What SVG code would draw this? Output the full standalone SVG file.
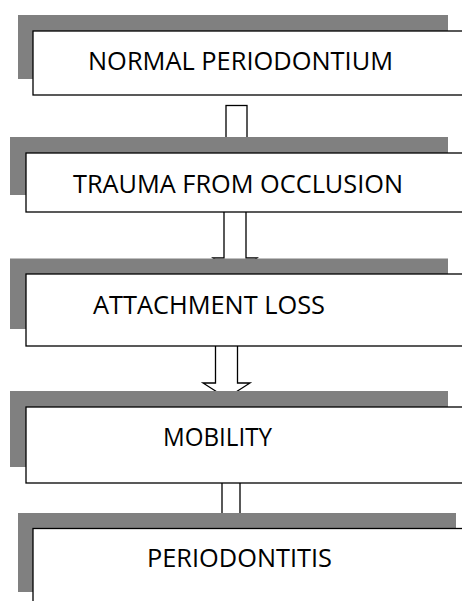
<svg xmlns="http://www.w3.org/2000/svg" width="462" height="601" viewBox="0 0 462 601">
<style>
.shadow{fill:#808080;}
.box{fill:#ffffff;stroke:#000000;stroke-width:1.3;}
.arrow{fill:#ffffff;stroke:#000000;stroke-width:1.3;}
.label{font-family:"Open Sans","Liberation Sans",sans-serif;font-size:25px;fill:#000000;}
</style>
<rect width="462" height="601" fill="#ffffff"/>
<g id="connectors">
<rect class="arrow" x="226" y="105.5" width="21" height="40"/>
<path class="arrow" d="M224,212 V258 H213 L235,275 L257,258 H246 V212"/>
<path class="arrow" d="M215.5,346 V383 H203 L226.5,398 L250,383 H237.5 V346"/>
<path class="arrow" d="M222,483 V520 M240,483 V520"/>
</g>
<g id="node1">
<rect class="shadow" x="18" y="15" width="430" height="64"/>
<rect class="box" x="33" y="31" width="440" height="64"/>
<text class="label" x="88" y="69.5" textLength="305" lengthAdjust="spacingAndGlyphs">NORMAL PERIODONTIUM</text>
</g>
<g id="node2">
<rect class="shadow" x="10" y="137" width="438" height="58"/>
<rect class="box" x="26" y="153" width="446" height="59"/>
<text class="label" x="73" y="193" textLength="330" lengthAdjust="spacingAndGlyphs">TRAUMA FROM OCCLUSION</text>
</g>
<g id="node3">
<rect class="shadow" x="10" y="258.5" width="438" height="70.5"/>
<rect class="box" x="26" y="274" width="446" height="72"/>
<text class="label" x="93" y="314" textLength="232" lengthAdjust="spacingAndGlyphs">ATTACHMENT LOSS</text>
</g>
<g id="node4">
<rect class="shadow" x="10" y="391" width="438" height="76"/>
<rect class="box" x="26" y="407" width="446" height="76"/>
<text class="label" x="163" y="446" textLength="109" lengthAdjust="spacingAndGlyphs">MOBILITY</text>
</g>
<g id="node5">
<rect class="shadow" x="18" y="513" width="438" height="79"/>
<rect class="box" x="33" y="528.5" width="440" height="90"/>
<text class="label" x="147" y="567" textLength="185" lengthAdjust="spacingAndGlyphs">PERIODONTITIS</text>
</g>
</svg>
